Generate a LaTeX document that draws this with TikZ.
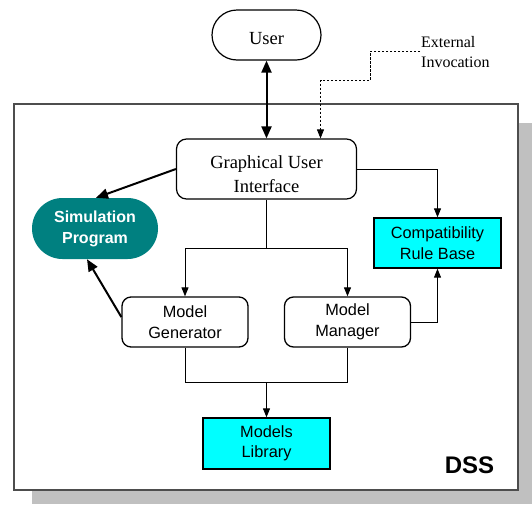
\documentclass[tikz,border=0pt]{standalone}
\usepackage{fontspec}
\setmainfont{Liberation Serif}
\setsansfont{Liberation Sans}
\usetikzlibrary{arrows.meta,shapes.misc}

\definecolor{shadowgray}{HTML}{C0C0C0}
\definecolor{frameline}{HTML}{4D4D4D}
\definecolor{simteal}{HTML}{008080}
\definecolor{storecyan}{HTML}{00FFFF}

\tikzset{
  serifbox/.style={draw, line width=1.2pt, fill=white, inner sep=0pt, align=center,
    font=\fontsize{18.5}{24}\selectfont},
  seriftext/.style={inner sep=0pt, align=center, font=\fontsize{18.5}{24}\selectfont},
  sansbox/.style={draw, line width=1.3pt, fill=white, inner sep=0pt, align=center,
    font=\sffamily\fontsize{16.3}{21}\selectfont,
    minimum width=126pt, minimum height=50pt, rounded corners=9pt},
  storebox/.style={draw, line width=1.3pt, fill=storecyan, inner sep=0pt, align=center,
    font=\sffamily\fontsize{16.3}{20.5}\selectfont,
    minimum width=127pt, minimum height=50pt},
  link/.style={line width=0.9pt, -{Triangle[length=9pt,width=7pt]}},
  plainlink/.style={line width=0.9pt},
  boldlink/.style={line width=2pt, -{Triangle[length=12pt,width=10pt]}},
  extlink/.style={line width=0.8pt, dash pattern=on 2.5pt off 1.5pt,
    -{Triangle[length=9pt,width=7pt]}},
}

\begin{document}
\begin{tikzpicture}[x=1pt,y=-1pt]
\useasboundingbox (0,0) rectangle (532,504);

% DSS frame with its drop shadow
\fill[shadowgray] (32,123) rectangle (532,504);
\draw[frameline, line width=1.4pt, fill=white] (14,104) rectangle (518,490);

% components
\node[serifbox, rounded rectangle, minimum width=109pt, minimum height=50pt]
  (user) at (266.5,35) {};
\node[seriftext] (usertext) at ([yshift=-4pt]user.center) {User};
\node[serifbox, rounded corners=10pt, minimum width=180pt, minimum height=60pt]
  (gui) at (266.5,169) {};
\node[seriftext] (guitext) at ([yshift=-5.5pt]gui.center) {Graphical User\\Interface};
\node[rounded rectangle, fill=simteal, text=white, inner sep=0pt, align=center,
  font=\sffamily\bfseries\fontsize{16}{21}\selectfont,
  minimum width=126pt, minimum height=61pt]
  (sim) at (95,228.5) {Simulation\\Program};
\node[sansbox] (gen) at (185,322) {Model\\Generator};
\node[sansbox] (man) at (347.5,322) {Model\\Manager};
\node[storebox] (crb) at (437.5,243) {Compatibility\\Rule Base};
\node[storebox, minimum height=51pt] (lib) at (266.5,443.5) {Models\\Library};

\node[anchor=west, inner sep=0pt, align=left, font=\fontsize{16}{20}\selectfont]
  (ext) at (421,52) {External\\Invocation};
\node[font=\sffamily\bfseries\fontsize{24}{28}\selectfont, inner sep=0pt]
  (dss) at (469.5,465) {DSS};

% connectors
\draw[boldlink, {Triangle[length=12pt,width=10pt]}-{Triangle[length=12pt,width=10pt]}]
  (user.south) -- (user.south |- gui.north);
\draw[extlink] ([xshift=-1pt,yshift=1pt]ext.west) -- ++(-50,0) -- ++(0,29) -| ([xshift=54pt]gui.north);
\draw[boldlink] (gui.west) -- ([xshift=1pt]sim.north);
\draw[boldlink] ([yshift=5pt]gen.west) -- ([xshift=-8pt]sim.south);

\path (gui.south) ++(0,49) coordinate (split);
\draw[plainlink] (gui.south) -- (split);
\draw[link] (split) -| (gen.north);
\draw[link] (split) -| (man.north);

\draw[link] (gui.east) -| (crb.north);
\draw[link] (man.east) -| (crb.south);

\path (gen.south) ++(0,35) coordinate (joinl);
\draw[plainlink] (gen.south) -- (joinl) -| (man.south);
\draw[link] (joinl -| lib.north) -- (lib.north);
\end{tikzpicture}
\end{document}
